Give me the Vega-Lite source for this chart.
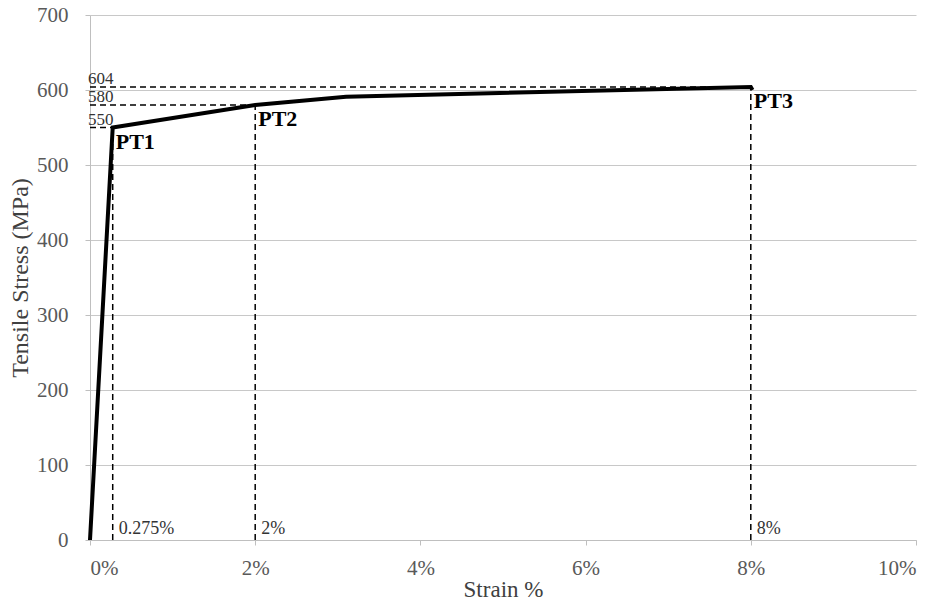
{
  "$schema": "https://vega.github.io/schema/vega-lite/v6.json",
  "autosize": {"type": "none"},
  "width": 826,
  "height": 525,
  "padding": {"left": 90, "top": 15, "right": 28, "bottom": 63},
  "background": "white",
  "config": {
    "view": {"stroke": null},
    "font": "Liberation Serif",
    "text": {"font": "Liberation Serif"},
    "axis": {"labelFont": "Liberation Serif", "titleFont": "Liberation Serif"}
  },
  "datasets": {
    "curve": [
      {"strain": 0, "stress": 0},
      {"strain": 0.275, "stress": 550},
      {"strain": 2, "stress": 580},
      {"strain": 3.1, "stress": 591},
      {"strain": 8, "stress": 604},
      {"strain": 8.02, "stress": 600}
    ],
    "guides": [
      {"x": 0, "x2": 8, "y": 604, "y2": 604},
      {"x": 0, "x2": 2, "y": 580, "y2": 580},
      {"x": 0, "x2": 0.275, "y": 550, "y2": 550},
      {"x": 0.275, "x2": 0.275, "y": 0, "y2": 550},
      {"x": 2, "x2": 2, "y": 0, "y2": 580},
      {"x": 8, "x2": 8, "y": 0, "y2": 604}
    ],
    "valueLabels": [
      {"x": 0, "y": 604, "label": "604"},
      {"x": 0, "y": 580, "label": "580"},
      {"x": 0, "y": 550, "label": "550"}
    ],
    "points": [
      {"x": 0.275, "y": 550, "label": "PT1"},
      {"x": 2, "y": 580, "label": "PT2"},
      {"x": 8, "y": 604, "label": "PT3"}
    ],
    "strainLabels": [
      {"x": 0.275, "y": 0, "label": "0.275%"},
      {"x": 2, "y": 0, "label": "2%"},
      {"x": 8, "y": 0, "label": "8%"}
    ]
  },
  "layer": [
    {
      "data": {"name": "guides"},
      "mark": {"type": "rule", "color": "black", "strokeWidth": 1.5, "strokeDash": [6, 4]},
      "encoding": {
        "x": {
          "field": "x", "type": "quantitative",
          "scale": {"domain": [0, 10], "nice": false},
          "axis": {
            "values": [0, 2, 4, 6, 8, 10],
            "labelExpr": "datum.value + '%'",
            "title": "Strain %",
            "grid": false,
            "domainColor": "#bfbfbf",
            "tickColor": "#bfbfbf",
            "tickSize": 5,
            "labelFontSize": 21,
            "labelColor": "#595959",
            "labelPadding": 12,
            "titleFontSize": 23,
            "titleFontWeight": "normal",
            "titleColor": "#404040",
            "titlePadding": 0
          }
        },
        "x2": {"field": "x2"},
        "y": {
          "field": "y", "type": "quantitative",
          "scale": {"domain": [0, 700], "nice": false},
          "axis": {
            "values": [0, 100, 200, 300, 400, 500, 600, 700],
            "title": "Tensile Stress (MPa)",
            "grid": true,
            "gridColor": "#c8c8c8",
            "domainColor": "#bfbfbf",
            "tickColor": "#bfbfbf",
            "tickSize": 5,
            "labelFontSize": 21,
            "labelColor": "#595959",
            "labelPadding": 17,
            "titleFontSize": 24,
            "titleFontWeight": "normal",
            "titleColor": "#404040",
            "titlePadding": 4
          }
        },
        "y2": {"field": "y2"}
      }
    },
    {
      "data": {"name": "curve"},
      "mark": {"type": "line", "color": "black", "strokeWidth": 4, "strokeJoin": "miter"},
      "encoding": {
        "x": {"field": "strain", "type": "quantitative"},
        "y": {"field": "stress", "type": "quantitative"}
      }
    },
    {
      "data": {"name": "valueLabels"},
      "mark": {"type": "text", "align": "left", "baseline": "alphabetic", "dx": -2, "dy": -3, "fontSize": 17, "color": "#333333"},
      "encoding": {
        "x": {"field": "x", "type": "quantitative"},
        "y": {"field": "y", "type": "quantitative"},
        "text": {"field": "label"}
      }
    },
    {
      "data": {"name": "points"},
      "mark": {"type": "text", "align": "left", "baseline": "alphabetic", "dx": 3, "dy": 21, "fontSize": 22, "fontWeight": "bold", "color": "black"},
      "encoding": {
        "x": {"field": "x", "type": "quantitative"},
        "y": {"field": "y", "type": "quantitative"},
        "text": {"field": "label"}
      }
    },
    {
      "data": {"name": "strainLabels"},
      "mark": {"type": "text", "align": "left", "baseline": "alphabetic", "dx": 6, "dy": -6, "fontSize": 18, "color": "#333333"},
      "encoding": {
        "x": {"field": "x", "type": "quantitative"},
        "y": {"field": "y", "type": "quantitative"},
        "text": {"field": "label"}
      }
    }
  ]
}
